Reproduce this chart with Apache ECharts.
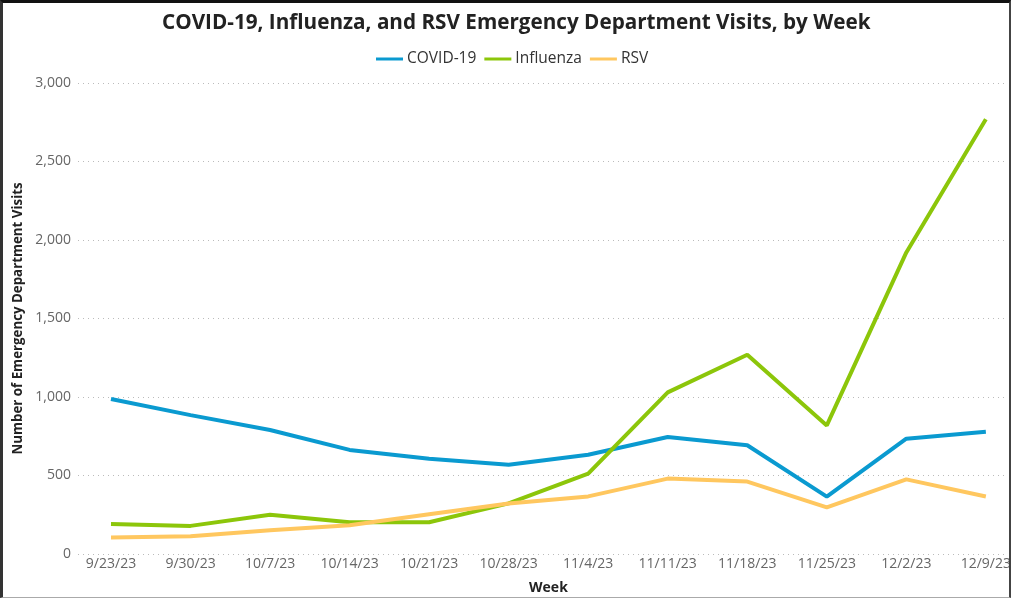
<!DOCTYPE html>
<html>
<head>
<meta charset="utf-8">
<script src="https://cdn.jsdelivr.net/npm/echarts@6/dist/echarts.min.js"></script>
<style>
  html, body { margin: 0; padding: 0; background: #fff; overflow: hidden; }
  #chart { position: absolute; left: 0; top: 0; width: 1014px; height: 600px; }
  #frame {
    position: absolute; left: 0; top: 0; width: 1011px; height: 598px;
    border-top: 3px solid #111; border-left: 3px solid #333;
    border-right: 2px solid #444; border-bottom: 1px solid #aaa;
    box-sizing: border-box; pointer-events: none;
  }
</style>
</head>
<body>
<div id="chart"></div>
<div id="frame"></div>
<script>
// weekly ED visits
const weeks = ['9/23/23', '9/30/23', '10/7/23', '10/14/23', '10/21/23', '10/28/23',
    '11/4/23', '11/11/23', '11/18/23', '11/25/23', '12/2/23', '12/9/23'];
const covid = [974, 871, 776, 648, 591, 553, 617, 731, 678, 349, 720, 764];
const influenza = [173, 161, 233, 184, 184, 305, 496, 1017, 1258, 805, 1914, 2768];
const rsv = [87, 95, 133, 165, 235, 305, 350, 464, 445, 280, 459, 349];
const yTicks = { min: 0, max: 3000, interval: 500 };

const font = "'Open Sans', 'Noto Sans', sans-serif";

const chart = echarts.init(document.getElementById('chart'));

const mkLine = (name, data, color) => ({
    name: name,
    type: 'line',
    xAxisIndex: 1,
    yAxisIndex: 1,
    data: data,
    symbol: 'none',
    lineStyle: { width: 4, color: color },
    itemStyle: { color: color }
});

chart.setOption({
    textStyle: { fontFamily: font },
    title: {
        text: 'COVID-19, Influenza, and RSV Emergency Department Visits, by Week',
        left: 157,
        top: 8,
        textStyle: { fontSize: 20.7, fontWeight: 'bold', color: '#222', fontFamily: font }
    },
    legend: {
        top: 46,
        left: 371,
        itemWidth: 27,
        itemHeight: 3,
        itemGap: 8,
        icon: 'rect',
        textStyle: { fontSize: 15.5, color: '#333', fontFamily: font, padding: [0, 0, 0, -1] },
        data: ['COVID-19', 'Influenza', 'RSV']
    },
    // wide grid: gridlines + y labels; narrow grid: the data
    grid: [
        { left: 78, right: 8, top: 83, bottom: 46 },
        { left: 111, right: 27, top: 83, bottom: 46 }
    ],
    xAxis: [
        { gridIndex: 0, type: 'value', show: false, min: 0, max: 1 },
        {
            gridIndex: 1,
            type: 'category',
            data: weeks,
            boundaryGap: false,
            name: 'Week',
            nameLocation: 'middle',
            nameGap: 30,
            nameTextStyle: { fontSize: 14, fontWeight: 'bold', color: '#222' },
            axisLine: { show: false },
            axisTick: { show: false },
            axisLabel: { fontSize: 14, color: '#666', margin: 6 }
        }
    ],
    yAxis: [
        {
            gridIndex: 0,
            type: 'value',
            ...yTicks,
            name: 'Number of Emergency Department Visits',
            nameLocation: 'middle',
            nameGap: 53,
            nameTextStyle: { fontSize: 13.3, fontWeight: 'bold', color: '#222' },
            axisLine: { show: false },
            axisTick: { show: false },
            axisLabel: { fontSize: 14, color: '#666', margin: 7,
                formatter: v => v.toLocaleString('en-US') },
            splitLine: { lineStyle: { type: [1, 4], color: '#bbb', width: 1 } }
        },
        { gridIndex: 1, type: 'value', ...yTicks, show: false, splitLine: { show: false } }
    ],
    series: [
        mkLine('COVID-19', covid, '#0a9ad0'),
        mkLine('Influenza', influenza, '#8cc60a'),
        mkLine('RSV', rsv, '#ffc75f')
    ]
});
</script>
</body>
</html>
